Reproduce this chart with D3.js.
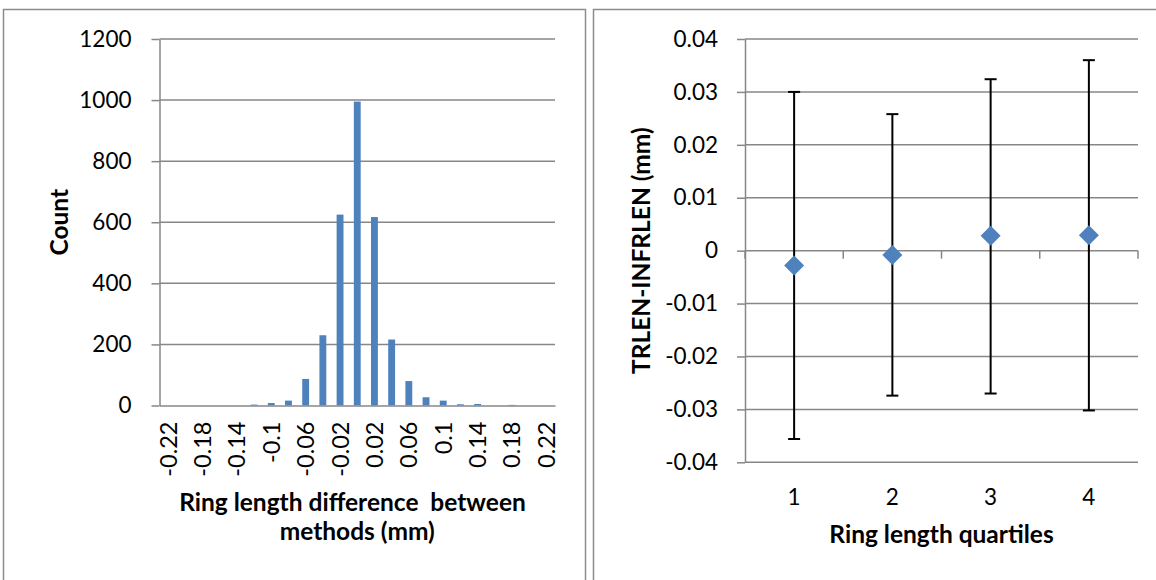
<!DOCTYPE html>
<html lang="en">
<head>
  <meta charset="UTF-8">
  <title>Ring length differences</title>
  <script src="https://d3js.org/d3.v7.min.js"></script>
  <style>
    body { margin: 0; background: #fff; }
    svg text { font-family: Lato, "Liberation Sans", sans-serif; fill: #000; }
  </style>
</head>
<body>
  <script>
    // histogram data
    const diffBins = ["-0.22","-0.2","-0.18","-0.16","-0.14","-0.12","-0.1","-0.08","-0.06","-0.04","-0.02","0",
                      "0.02","0.04","0.06","0.08","0.1","0.12","0.14","0.16","0.18","0.2","0.22"];
    const diffCounts = [0,0,0,0,0,3,8,16,87,230,625,995,617,216,80,27,16,4,5,0,2,0,0];
    const diffLabels = ["-0.22","-0.18","-0.14","-0.1","-0.06","-0.02","0.02","0.06","0.1","0.14","0.18","0.22"];
    const countTicks = [0,200,400,600,800,1000,1200];

    // quartile data (mean with error bars)
    const quartiles = ["1","2","3","4"];
    const qMean = [-0.0028, -0.0008, 0.0028, 0.0029];
    const qHigh = [0.0300, 0.0258, 0.0324, 0.0360];
    const qLow = [-0.0356, -0.0274, -0.0270, -0.0302];
    const qTicks = [-0.04,-0.03,-0.02,-0.01,0,0.01,0.02,0.03,0.04];

    const W = 1156, H = 580;
    const gridColor = "#878787", blue = "#4F81BD";
    const tickFont = 22.5, titleFont = 24.5;

    const svg = d3.select("body").append("svg")
      .attr("width", W).attr("height", H);

    // panel frames
    svg.append("rect").attr("x", 3.5).attr("y", 9.5).attr("width", 582).attr("height", 600)
      .attr("fill", "none").attr("stroke", "#8c8c8c").attr("stroke-width", 1.5);
    svg.append("rect").attr("x", 593.5).attr("y", 9.5).attr("width", 600).attr("height", 600)
      .attr("fill", "none").attr("stroke", "#8c8c8c").attr("stroke-width", 1.5);

    // ---------- left: histogram ----------
    const L = { x0: 159.5, x1: 555, y0: 39, y1: 405.5 };

    const xBin = d3.scaleBand().domain(diffBins).range([L.x0, L.x1])
      .paddingInner(0.6).paddingOuter(0.3);
    const yCount = d3.scaleLinear().domain([0, 1200]).range([L.y1, L.y0]);

    const left = svg.append("g");

    left.append("g").selectAll("line")
      .data(countTicks.filter(d => d > 0))
      .join("line")
      .attr("x1", L.x0).attr("x2", L.x1)
      .attr("y1", d => yCount(d)).attr("y2", d => yCount(d))
      .attr("stroke", gridColor).attr("stroke-width", 1.5);

    left.append("g").selectAll("rect")
      .data(diffCounts)
      .join("rect")
      .attr("x", (d, i) => xBin(diffBins[i]))
      .attr("width", xBin.bandwidth())
      .attr("y", d => yCount(d))
      .attr("height", d => yCount(0) - yCount(d))
      .attr("fill", blue);

    const yAxisL = left.append("g")
      .attr("transform", `translate(${L.x0},0)`)
      .call(d3.axisLeft(yCount).tickValues(countTicks).tickFormat(String)
        .tickSize(8).tickSizeOuter(0).tickPadding(20));
    yAxisL.selectAll("text").attr("font-size", tickFont);

    const xAxisL = left.append("g")
      .attr("transform", `translate(0,${L.y1})`)
      .call(d3.axisBottom(xBin).tickValues(diffLabels).tickSize(0).tickSizeOuter(0));
    xAxisL.selectAll("text")
      .attr("transform", "rotate(-90)")
      .attr("text-anchor", "end")
      .attr("x", -16).attr("y", 0).attr("dy", "0.36em")
      .attr("font-size", 23.5);

    [yAxisL, xAxisL].forEach(a => {
      a.select(".domain").attr("stroke", gridColor).attr("stroke-width", 1.5);
      a.selectAll(".tick line").attr("stroke", gridColor).attr("stroke-width", 1.5);
    });

    left.append("text")
      .attr("transform", `translate(68,${(L.y0 + L.y1) / 2}) rotate(-90)`)
      .attr("text-anchor", "middle")
      .attr("font-size", titleFont).attr("font-weight", "bold")
      .text("Count");

    left.append("text")
      .attr("x", 352.5).attr("y", 511)
      .attr("text-anchor", "middle").attr("xml:space", "preserve")
      .attr("font-size", titleFont).attr("font-weight", "bold")
      .text("Ring length difference  between");
    left.append("text")
      .attr("x", (L.x0 + L.x1) / 2).attr("y", 540)
      .attr("text-anchor", "middle")
      .attr("font-size", titleFont).attr("font-weight", "bold")
      .text("methods (mm)");

    // ---------- right: quartile means ----------
    const R = { x0: 745, x1: 1138, y0: 39, y1: 462.3 };

    const xQ = d3.scaleBand().domain(quartiles).range([R.x0, R.x1]).padding(0);
    const yQ = d3.scaleLinear().domain([-0.04, 0.04]).range([R.y1, R.y0]);
    const cx = d => xQ(d) + xQ.bandwidth() / 2;

    const right = svg.append("g");

    right.append("g").selectAll("line")
      .data(qTicks.filter(d => d !== 0))
      .join("line")
      .attr("x1", R.x0).attr("x2", R.x1)
      .attr("y1", d => yQ(d)).attr("y2", d => yQ(d))
      .attr("stroke", gridColor).attr("stroke-width", 1.5);

    const yAxisR = right.append("g")
      .attr("transform", `translate(${R.x0},0)`)
      .call(d3.axisLeft(yQ).tickValues(qTicks).tickFormat(String)
        .tickSize(8).tickSizeOuter(0).tickPadding(19));
    yAxisR.selectAll("text").attr("font-size", tickFont);

    // horizontal axis through zero, ticks at category boundaries
    const zeroAxis = right.append("g")
      .attr("transform", `translate(0,${yQ(0)})`);
    zeroAxis.append("line")
      .attr("x1", R.x0).attr("x2", R.x1)
      .attr("stroke", gridColor).attr("stroke-width", 1.5);
    zeroAxis.selectAll("line.tk")
      .data(quartiles.map(q => xQ(q)).concat([R.x1]))
      .join("line").attr("class", "tk")
      .attr("x1", d => d).attr("x2", d => d)
      .attr("y1", 0).attr("y2", 8)
      .attr("stroke", gridColor).attr("stroke-width", 1.5);

    yAxisR.select(".domain").attr("stroke", gridColor).attr("stroke-width", 1.5);
    yAxisR.selectAll(".tick line").attr("stroke", gridColor).attr("stroke-width", 1.5);

    // category labels along the bottom
    const xAxisR = right.append("g")
      .attr("transform", `translate(0,${R.y1})`)
      .call(d3.axisBottom(xQ).tickSize(0).tickPadding(27));
    xAxisR.select(".domain").remove();
    xAxisR.selectAll("text").attr("font-size", tickFont);

    // error bars
    const eb = right.append("g").selectAll("g")
      .data(quartiles)
      .join("g");
    eb.append("line")
      .attr("x1", d => cx(d)).attr("x2", d => cx(d))
      .attr("y1", (d, i) => yQ(qHigh[i])).attr("y2", (d, i) => yQ(qLow[i]))
      .attr("stroke", "#000").attr("stroke-width", 2);
    eb.append("line")
      .attr("x1", d => cx(d) - 6).attr("x2", d => cx(d) + 6)
      .attr("y1", (d, i) => yQ(qHigh[i])).attr("y2", (d, i) => yQ(qHigh[i]))
      .attr("stroke", "#000").attr("stroke-width", 2);
    eb.append("line")
      .attr("x1", d => cx(d) - 6).attr("x2", d => cx(d) + 6)
      .attr("y1", (d, i) => yQ(qLow[i])).attr("y2", (d, i) => yQ(qLow[i]))
      .attr("stroke", "#000").attr("stroke-width", 2);

    // diamond markers
    right.append("g").selectAll("path")
      .data(quartiles)
      .join("path")
      .attr("transform", (d, i) => `translate(${cx(d)},${yQ(qMean[i])})`)
      .attr("d", "M0,-10L10,0L0,10L-10,0Z")
      .attr("fill", blue);

    right.append("text")
      .attr("transform", `translate(650,${(R.y0 + R.y1) / 2}) rotate(-90)`)
      .attr("text-anchor", "middle")
      .attr("font-size", titleFont).attr("font-weight", "bold")
      .text("TRLEN-INFRLEN (mm)");

    right.append("text")
      .attr("x", (R.x0 + R.x1) / 2).attr("y", 543)
      .attr("text-anchor", "middle")
      .attr("font-size", titleFont).attr("font-weight", "bold")
      .text("Ring length quartiles");
  </script>
</body>
</html>
